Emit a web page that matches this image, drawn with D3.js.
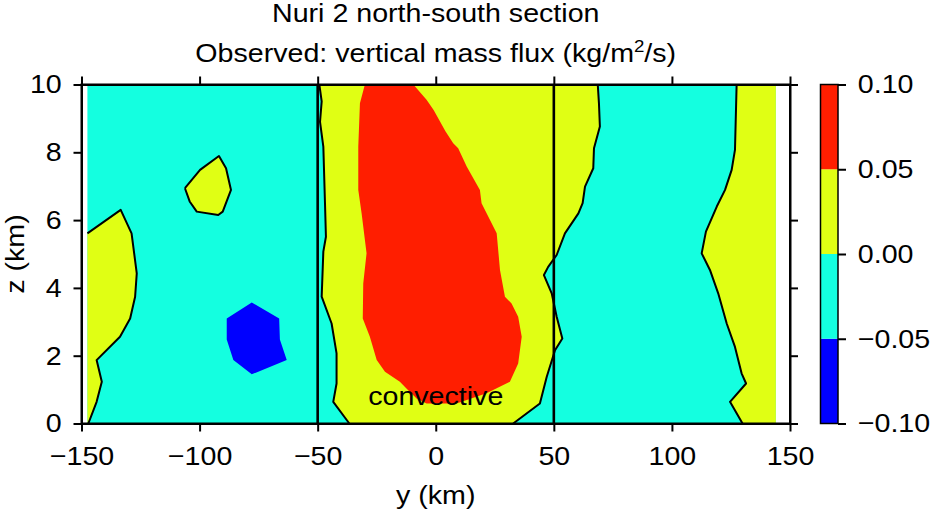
<!DOCTYPE html>
<html>
<head>
<meta charset="utf-8">
<script src="https://cdn.jsdelivr.net/npm/d3@7"></script>
<style>
  body { margin: 0; background: #fff; }
  svg text { font-family: "Liberation Sans", Arial, Helvetica, sans-serif; fill: #000; }
</style>
</head>
<body>
<div id="chart"></div>
<script>
// axis ranges and ticks
var yDomain = [-150, 150];
var zDomain = [0, 10];
var yTicks = [-150, -100, -50, 0, 50, 100, 150];
var zTicks = [0, 2, 4, 6, 8, 10];
// horizontal extent of the observations
var obsExtent = [-147.5, 144];
// contour levels and fill colours (one colour per interval)
var levels = [-0.10, -0.05, 0.00, 0.05, 0.10];
var levelColors = ["#0000ff", "#14ffe0", "#e0ff14", "#ff1e00"];
// convective region boundaries
var convectiveEdges = [-50, 50];

// zero contour (y km, z km) - west edge patch
var westZero = [[-147.5, 5.61], [-133.4, 6.30], [-128.8, 5.61], [-126.6, 4.43], [-127.3, 3.74],
  [-129.4, 3.10], [-133.7, 2.56], [-143.6, 1.87], [-141.4, 1.23], [-143.6, 0.64], [-147.1, 0.0]];
// zero contour - isolated blob aloft
var blobZero = [[-106.2, 6.94], [-99.8, 7.48], [-91.8, 7.89], [-88.8, 7.53], [-86.7, 6.89],
  [-90.2, 6.25], [-92.1, 6.15], [-101.2, 6.25], [-104.2, 6.55]];
// zero contour - west side of the updraft
var coreWestZero = [[-49.3, 10], [-48.3, 9.5], [-49.0, 8.9], [-47.6, 8.17], [-46.9, 6.5], [-46.5, 5.51],
  [-47.6, 5.07], [-48.3, 3.74], [-44.1, 2.95], [-42.0, 2.07], [-42.0, 1.18], [-43.4, 0.64], [-36.6, 0]];
// zero contour - east side of the updraft
var coreEastZero = [[32.8, 0], [44.1, 0.59], [47.0, 1.38], [50.5, 2.16], [53.6, 2.51], [51.2, 3.15],
  [49.1, 3.84], [45.8, 4.38], [47.6, 4.62], [51.2, 4.97], [54.7, 5.61], [60.4, 6.20], [62.2, 6.50],
  [63.2, 6.99], [66.7, 7.53], [67.0, 8.12], [69.5, 8.76], [69.1, 9.45], [68.6, 10]];
// zero contour - east edge patch
var eastZero = [[127.4, 10], [126.7, 8.07], [125.3, 7.48], [122.5, 6.89], [119.0, 6.40], [114.4, 5.66],
  [112.6, 5.02], [116.1, 4.53], [119.6, 3.84], [123.2, 2.95], [126.7, 2.26], [129.5, 1.48],
  [131.4, 1.18], [124.6, 0.64], [129.9, 0]];
// 0.05 contour - updraft core
var redCore = [[-30.0, 10], [-32.1, 9.45], [-32.8, 8.17], [-32.8, 6.89], [-31.4, 6.20], [-29.3, 5.02],
  [-30.7, 4.13], [-30.9, 3.10], [-27.9, 2.56], [-25.0, 1.87], [-21.5, 1.53], [-15.2, 1.23],
  [-12.4, 1.03], [-8.1, 0.74], [-3.9, 0.59], [8.8, 0.59], [21.5, 0.89], [31.4, 1.23], [34.9, 1.77],
  [36.4, 2.56], [34.9, 3.15], [32.1, 3.54], [29.3, 3.74], [27.2, 4.53], [25.8, 5.61], [19.4, 6.50],
  [18.7, 6.89], [13.1, 7.58], [9.5, 8.12], [7.4, 8.27], [4.1, 8.62], [-0.9, 9.25], [-3.9, 9.55], [-9.5, 10]];
// -0.05 contour - downdraft core
var blueCore = [[-88.5, 3.10], [-77.9, 3.57], [-66.3, 3.10], [-66.0, 2.48], [-63.1, 1.87],
  [-77.9, 1.45], [-85.7, 1.87], [-88.5, 2.48]];

var svgWidth = 931;
var svgHeight = 512;
var margin = { top: 84.5, right: 141, bottom: 88.5, left: 81.5 };
var width = svgWidth - margin.left - margin.right;
var height = svgHeight - margin.top - margin.bottom;
var stretch = "scale(1.1,1)";

var svg = d3.select("#chart").append("svg")
  .attr("width", svgWidth)
  .attr("height", svgHeight);

var chartGroup = svg.append("g")
  .attr("transform", `translate(${margin.left}, ${margin.top})`);

var x = d3.scaleLinear().domain(yDomain).range([0, width]);
var z = d3.scaleLinear().domain(zDomain).range([height, 0]);

var line = d3.line().x(d => x(d[0])).y(d => z(d[1]));

// background level (-0.05 to 0)
chartGroup.append("rect")
  .attr("x", x(obsExtent[0]))
  .attr("y", z(zDomain[1]))
  .attr("width", x(obsExtent[1]) - x(obsExtent[0]))
  .attr("height", z(zDomain[0]) - z(zDomain[1]))
  .attr("fill", levelColors[1]);

// positive (0 to 0.05) areas
var yellowAreas = [
  westZero.concat([[obsExtent[0], 0]]),
  blobZero,
  coreWestZero.concat(coreEastZero),
  eastZero.concat([[obsExtent[1], 0], [obsExtent[1], 10]])
];
chartGroup.selectAll(".pos")
  .data(yellowAreas)
  .enter()
  .append("path")
  .attr("class", "pos")
  .attr("d", d => line(d) + "Z")
  .attr("fill", levelColors[2]);

chartGroup.append("path")
  .attr("d", line(redCore) + "Z")
  .attr("fill", levelColors[3]);

chartGroup.append("path")
  .attr("d", line(blueCore) + "Z")
  .attr("fill", levelColors[0]);

// zero contour lines
var zeroLines = [westZero, blobZero.concat([blobZero[0]]), coreWestZero, coreEastZero, eastZero];
chartGroup.selectAll(".zero")
  .data(zeroLines)
  .enter()
  .append("path")
  .attr("class", "zero")
  .attr("d", d => line(d))
  .attr("fill", "none")
  .attr("stroke", "#000")
  .attr("stroke-width", 2)
  .attr("stroke-linejoin", "round");

// convective region edges
chartGroup.selectAll(".edge")
  .data(convectiveEdges)
  .enter()
  .append("line")
  .attr("class", "edge")
  .attr("x1", d => x(d)).attr("x2", d => x(d))
  .attr("y1", z(zDomain[0])).attr("y2", z(zDomain[1]))
  .attr("stroke", "#000")
  .attr("stroke-width", 2.6);

// convective label
chartGroup.append("text")
  .attr("transform", `translate(${x(0)}, ${z(0.55)}) ${stretch}`)
  .attr("text-anchor", "middle")
  .attr("font-size", 26)
  .text("convective");

// axes
function styleAxis(g) {
  g.selectAll("path, line").attr("stroke", "#000").attr("stroke-width", 2);
  g.selectAll("text").attr("font-size", 26).attr("fill", "#000")
    .attr("font-family", "Liberation Sans, Arial, sans-serif")
    .attr("transform", stretch);
}

chartGroup.append("g")
  .attr("transform", `translate(0, ${height})`)
  .call(d3.axisBottom(x).tickValues(yTicks).tickSize(8).tickSizeOuter(0).tickPadding(15))
  .call(styleAxis);

chartGroup.append("g")
  .call(d3.axisTop(x).tickValues(yTicks).tickSize(8).tickSizeOuter(0).tickFormat(""))
  .call(styleAxis);

chartGroup.append("g")
  .call(d3.axisLeft(z).tickValues(zTicks).tickSize(8).tickSizeOuter(0).tickPadding(10))
  .call(styleAxis);

chartGroup.append("g")
  .attr("transform", `translate(${width}, 0)`)
  .call(d3.axisRight(z).tickValues(zTicks).tickSize(8).tickSizeOuter(0).tickFormat(""))
  .call(styleAxis);

// axis titles
chartGroup.append("text")
  .attr("transform", `translate(${width / 2}, ${height + 80}) ${stretch}`)
  .attr("text-anchor", "middle")
  .attr("font-size", 26)
  .text("y (km)");

chartGroup.append("text")
  .attr("transform", `translate(${-58}, ${height / 2}) rotate(-90) ${stretch}`)
  .attr("text-anchor", "middle")
  .attr("font-size", 26)
  .text("z (km)");

// title
var title = svg.append("g")
  .attr("transform", `translate(${margin.left + width / 2}, 0)`);
title.append("text")
  .attr("transform", `translate(0, 22) ${stretch}`)
  .attr("text-anchor", "middle")
  .attr("font-size", 26)
  .text("Nuri 2 north-south section");
var sub = title.append("text")
  .attr("transform", `translate(0, 61.5) ${stretch}`)
  .attr("text-anchor", "middle")
  .attr("font-size", 26);
sub.append("tspan").text("Observed: vertical mass flux (kg/m");
sub.append("tspan").attr("font-size", 17).attr("dy", -10).text("2");
sub.append("tspan").attr("dy", 10).text("/s)");

// colour bar
var barX = 820.5;
var barW = 17.5;
var c = d3.scaleLinear().domain([levels[0], levels[levels.length - 1]]).range([height, 0]);
var bar = svg.append("g")
  .attr("transform", `translate(${barX}, ${margin.top})`);

bar.selectAll("rect.level")
  .data(levelColors)
  .enter()
  .append("rect")
  .attr("class", "level")
  .attr("x", 0)
  .attr("width", barW)
  .attr("y", (d, i) => c(levels[i + 1]))
  .attr("height", (d, i) => c(levels[i]) - c(levels[i + 1]))
  .attr("fill", d => d);

bar.append("rect")
  .attr("width", barW)
  .attr("height", height)
  .attr("fill", "none")
  .attr("stroke", "#000")
  .attr("stroke-width", 1.5);

bar.append("g")
  .attr("transform", `translate(${barW}, 0)`)
  .call(d3.axisRight(c).tickValues(levels).tickFormat(d3.format(".2f")).tickSize(8).tickSizeOuter(0).tickPadding(10))
  .call(styleAxis)
  .call(g => g.select(".domain").remove());

// plot frame
chartGroup.append("rect")
  .attr("width", width)
  .attr("height", height)
  .attr("fill", "none")
  .attr("stroke", "#000")
  .attr("stroke-width", 2);
</script>
</body>
</html>
